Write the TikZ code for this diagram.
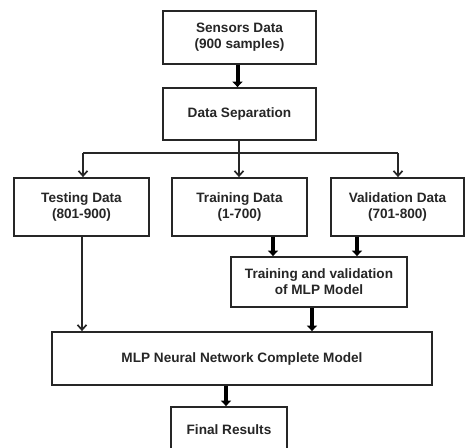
\documentclass[tikz,border=0pt]{standalone}
\usepackage{fontspec}
\setmainfont{Liberation Sans}
\usetikzlibrary{arrows.meta,calc}
\begin{document}
\begin{tikzpicture}[x=1pt,y=-1pt,
  box/.style={draw=black!85,line width=1.8pt,fill=white,align=center,inner sep=2pt,
    font=\fontsize{13.6}{16}\selectfont\bfseries,text=black!85},
  thk/.style={draw=black,line width=4pt,-{Triangle[length=5.5pt,width=10pt]}},
  thn/.style={draw=black!85,line width=1.7pt,-{Straight Barb[length=5pt,width=9pt,line width=1.7pt]}},
  ln/.style={draw=black!85,line width=1.7pt}]
\useasboundingbox (0,0) rectangle (465,447);
\clip (0,0) rectangle (465,447);
\node[box,minimum width=153pt,minimum height=53pt] (sens) at (239.5,37.5) {Sensors Data\\(900 samples)};
\node[box,minimum width=153pt,minimum height=52pt] (sep) at (239.5,114) {Data Separation};
\node[box,minimum width=135pt,minimum height=58pt] (test) at (81.5,207) {Testing Data\\(801-900)};
\node[box,minimum width=135pt,minimum height=58pt] (train) at (239.5,207) {Training Data\\(1-700)};
\node[box,minimum width=133pt,minimum height=58pt] (val) at (397.5,207) {Validation Data\\(701-800)};
\node[box,minimum width=176pt,minimum height=50pt] (tv) at (319,282) {Training and validation\\of MLP Model};
\node[box,minimum width=380pt,minimum height=53pt] (mlp) at (242,358.5) {MLP Neural Network Complete Model};
\node[box,minimum width=116pt,minimum height=46pt] (fin) at (229,430) {Final Results};
\coordinate (split) at (239,153);
\draw[thk] ([xshift=-2pt]sens.south) -- ([xshift=-2pt]sens.south |- sep.north);
\draw[ln] (sep.south -| split) -- (split);
\draw[ln] (split) -- (split -| 83,0) ;
\draw[ln] (split) -- (split -| 398,0);
\draw[thn] (split -| 83,0) -- (test.north -| 83,0);
\draw[thn] (split) -- (train.north -| split);
\draw[thn] (split -| 398,0) -- (val.north -| 398,0);
\draw[thn] ([xshift=0.5pt]test.south) -- ([xshift=0.5pt]test.south |- mlp.north);
\draw[thk] ([xshift=33.5pt]train.south) -- ([xshift=33.5pt]train.south |- tv.north);
\draw[thk] ([xshift=-40.5pt]val.south) -- ([xshift=-40.5pt]val.south |- tv.north);
\draw[thk] ([xshift=-7pt]tv.south) -- ([xshift=-7pt]tv.south |- mlp.north);
\draw[thk] ([xshift=-3pt]fin.north |- mlp.south) -- ([xshift=-3pt]fin.north);
\end{tikzpicture}
\end{document}
